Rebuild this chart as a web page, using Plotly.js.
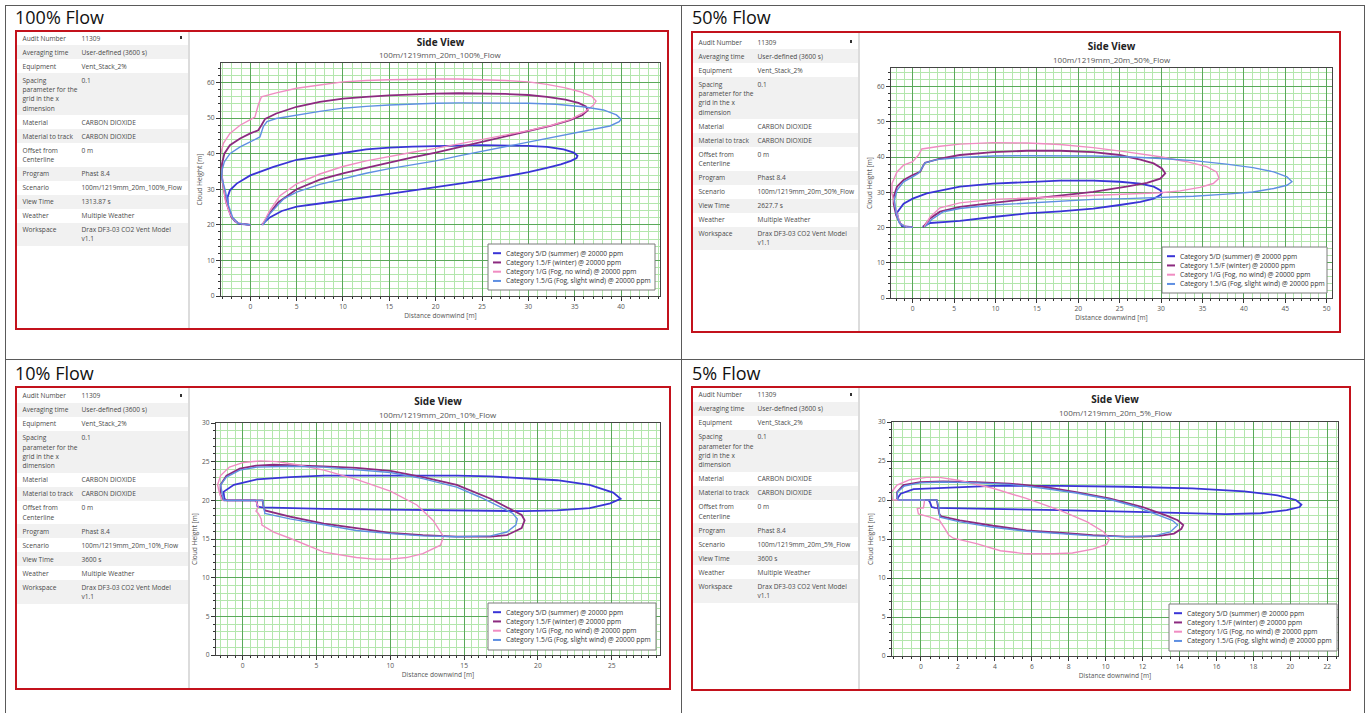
<!DOCTYPE html>
<html><head><meta charset="utf-8">
<script src="https://cdn.plot.ly/plotly-3.0.1.min.js"></script>
<style>
html,body{margin:0;padding:0;background:#fff;}
#page{position:relative;width:1366px;height:713px;overflow:hidden;background:#fff;font-family:"Open Sans",sans-serif;}
.ln{position:absolute;background:#5a5a5a;}
.ptitle{position:absolute;font-size:18px;line-height:18px;color:#111;white-space:nowrap;}
.redbox{position:absolute;border:2px solid #c3121c;box-sizing:border-box;pointer-events:none;}
.pane{position:absolute;background:#fff;}
.row{position:absolute;left:0;right:0;}
.row.g{background:#f1f1f1;}
.lab,.val{position:absolute;top:2.3px;font-size:6.6px;line-height:9.33px;color:#4a4a4a;white-space:nowrap;}
.mark{position:absolute;width:2px;height:3px;background:#333;}
.div{position:absolute;background:#dcdcdc;width:2px;}
.chart{position:absolute;}
</style></head>
<body><div id="page"></div>
<script>
// ---------------- DATA ----------------
const seriesNames = ["Category 5/D (summer) @ 20000 ppm","Category 1.5/F (winter) @ 20000 ppm","Category 1/G (Fog, no wind) @ 20000 ppm","Category 1.5/G (Fog, slight wind) @ 20000 ppm"];
const panelTitles = ["100% Flow","50% Flow","10% Flow","5% Flow"];
const chartTitle = "Side View";
const subTitles = ["100m/1219mm_20m_100%_Flow","100m/1219mm_20m_50%_Flow","100m/1219mm_20m_10%_Flow","100m/1219mm_20m_5%_Flow"];
const xAxisTitle = "Distance downwind [m]";
const yAxisTitle = "Cloud Height [m]";
const infoLabels = ["Audit Number","Averaging time","Equipment","Spacing\nparameter for the\ngrid in the x\ndimension","Material","Material to track","Offset from\nCenterline","Program","Scenario","View Time","Weather","Workspace"];
const infoValues100 = ["11309","User-defined (3600 s)","Vent_Stack_2%","0.1","CARBON DIOXIDE","CARBON DIOXIDE","0 m","Phast 8.4","100m/1219mm_20m_100%_Flow","1313.87 s","Multiple Weather","Drax DF3-03 CO2 Vent Model\nv1.1"];
const infoValues50 = ["11309","User-defined (3600 s)","Vent_Stack_2%","0.1","CARBON DIOXIDE","CARBON DIOXIDE","0 m","Phast 8.4","100m/1219mm_20m_50%_Flow","2627.7 s","Multiple Weather","Drax DF3-03 CO2 Vent Model\nv1.1"];
const infoValues10 = ["11309","User-defined (3600 s)","Vent_Stack_2%","0.1","CARBON DIOXIDE","CARBON DIOXIDE","0 m","Phast 8.4","100m/1219mm_20m_10%_Flow","3600 s","Multiple Weather","Drax DF3-03 CO2 Vent Model\nv1.1"];
const infoValues5 = ["11309","User-defined (3600 s)","Vent_Stack_2%","0.1","CARBON DIOXIDE","CARBON DIOXIDE","0 m","Phast 8.4","100m/1219mm_20m_5%_Flow","3600 s","Multiple Weather","Drax DF3-03 CO2 Vent Model\nv1.1"];

// 100% flow
const f100SumX = [1.22,2.1,3.4,5.0,7.5,10.0,12.5,15.0,17.5,20.0,22.5,25.0,27.5,30.0,32.0,33.5,34.6,35.2,35.3,34.9,33.8,32.0,30.0,27.5,25.0,22.5,20.0,17.5,15.0,12.5,10.0,7.5,5.0,2.5,0.0,-1.47,-2.2,-2.45,-2.4,-2.1,-1.65,-1.2,-0.6,0.0];
const f100SumY = [20.0,22.1,23.9,25.1,26.0,26.8,27.8,28.7,29.6,30.6,31.5,32.5,33.6,34.8,36.0,37.0,38.0,38.8,39.4,40.3,41.2,41.9,42.2,42.4,42.4,42.3,42.2,42.0,41.7,41.2,40.2,39.3,38.3,36.3,33.9,31.6,29.7,27.8,25.0,22.6,21.0,20.3,20.15,20.0];
const f100WinX = [1.33,2.0,3.0,5.0,7.5,10.0,12.5,15.0,17.5,20.0,22.5,25.0,27.5,30.0,32.5,34.5,35.8,36.4,36.2,35.4,34.0,32.0,30.0,27.5,25.0,22.5,20.0,17.5,15.0,12.5,10.0,7.5,5.0,2.8,1.6,1.2,0.86,0.0,-1.1,-2.2,-2.8,-3.05,-3.1,-2.9,-2.55,-2.0,-1.3,-0.6,0.0];
const f100WinY = [20.0,23.0,26.3,30.0,32.7,34.5,36.0,37.6,39.0,40.3,41.8,43.3,44.8,46.3,47.9,49.4,50.8,52.2,53.3,54.3,55.2,56.0,56.5,56.8,57.0,57.0,56.9,56.7,56.4,56.0,55.5,54.6,53.2,51.3,49.8,48.0,46.6,45.7,44.3,42.4,40.0,37.2,34.4,30.6,25.9,22.1,20.4,20.2,20.0];
const f100FogX = [1.3,2.1,3.2,5.0,7.5,10.0,12.5,15.0,17.5,20.0,22.5,25.0,27.5,30.0,32.5,34.5,36.0,37.0,37.3,36.8,35.5,34.0,32.0,30.0,27.5,25.0,22.5,20.0,17.5,15.0,12.5,10.0,7.5,5.0,2.8,1.2,0.86,0.5,0.0,-1.1,-2.2,-2.9,-3.2,-3.25,-3.1,-2.95,-2.7,-2.2,-1.5,-0.7,0.0];
const f100FogY = [20.0,24.0,28.2,31.5,34.3,36.4,38.0,39.3,40.4,41.5,42.7,43.9,45.1,46.5,48.0,49.6,51.6,53.6,54.8,56.2,57.5,58.5,59.5,60.2,60.6,60.9,61.0,61.0,61.0,60.8,60.6,60.2,59.3,58.4,57.1,56.0,53.7,50.3,49.6,48.0,45.7,42.9,40.0,37.2,34.4,31.0,27.0,23.0,20.6,20.2,20.0];
const f100SlwX = [1.4,2.1,3.6,5.0,7.5,10.0,12.5,15.0,17.5,20.0,22.5,25.0,27.5,30.0,32.5,35.0,37.0,38.8,39.8,40.0,39.5,38.1,35.9,33.0,30.0,27.5,25.0,22.5,20.0,17.5,15.0,12.5,10.0,7.5,5.0,2.8,1.8,1.4,1.04,0.0,-1.1,-2.2,-2.8,-3.05,-3.1,-2.7,-2.4,-1.9,-1.3,-0.6,0.0];
const f100SlwY = [20.0,23.1,27.3,29.2,31.4,33.0,34.5,35.8,36.9,38.0,39.4,40.7,42.0,43.3,44.6,45.8,46.8,47.8,49.0,49.7,50.9,52.3,53.2,53.9,54.2,54.3,54.3,54.3,54.2,54.0,53.7,53.3,52.8,51.9,50.9,49.9,49.0,47.6,44.7,43.3,41.9,40.0,37.7,35.3,33.4,29.7,25.9,22.1,20.4,20.2,20.0];

// 50% flow
const f50SumX = [1.2,2.1,4.1,5.7,9.7,13.8,17.8,21.8,25.0,27.5,29.1,29.9,30.1,29.9,29.1,27.5,25.0,21.8,17.8,13.8,9.7,5.7,1.7,0.0,-1.1,-1.9,-1.7,-1.3,-0.7,0.0];
const f50SumY = [20.2,21.3,21.6,21.9,23.0,24.0,24.6,25.4,26.4,27.3,28.2,29.2,29.9,30.6,31.6,32.5,33.0,33.3,33.3,33.0,32.5,31.6,29.7,28.2,26.8,24.2,22.1,20.4,20.2,20.1];
const f50WinX = [1.3,2.1,3.3,5.7,9.7,13.8,17.8,21.8,25.8,28.3,29.9,30.5,30.1,29.1,27.5,25.0,21.8,17.8,13.8,9.7,5.7,3.3,1.5,1.3,0.9,0.0,-1.1,-1.9,-2.3,-2.3,-2.0,-1.5,-0.9,0.0];
const f50WinY = [20.2,22.6,24.5,25.9,27.0,28.0,29.0,30.1,31.6,32.7,33.9,35.4,36.8,38.2,39.3,40.6,41.4,41.8,41.8,41.4,40.6,39.6,38.4,37.7,35.8,34.9,33.5,31.6,28.7,26.8,23.5,21.1,20.2,20.1];
const f50FogX = [1.4,2.1,3.3,5.7,9.7,13.8,17.8,21.8,25.8,29.9,32.3,34.7,36.3,37.0,36.7,35.5,33.1,29.9,25.8,21.8,17.8,13.8,9.7,5.7,3.3,1.1,0.7,0.0,-1.1,-1.9,-2.5,-2.5,-2.3,-1.9,-1.5,-0.7,0.0];
const f50FogY = [20.2,23.0,25.6,27.0,28.0,28.4,28.7,29.0,29.4,29.9,30.4,31.4,32.5,34.0,35.8,37.3,38.7,40.1,41.5,42.7,43.6,44.0,44.1,43.7,43.1,42.3,40.6,38.7,37.7,35.8,32.5,29.7,27.8,24.0,21.1,20.2,20.1];
const f50SlwX = [1.5,2.3,3.7,5.7,9.7,13.8,17.8,21.8,25.8,29.9,33.9,37.9,41.1,43.6,45.2,45.8,45.2,43.6,41.1,37.9,33.9,29.9,25.8,21.8,17.8,13.8,9.7,5.7,2.9,1.5,1.1,0.7,0.0,-1.1,-1.9,-2.2,-2.0,-1.6,-0.9,0.0];
const f50SlwY = [20.2,22.3,24.5,25.4,26.4,27.0,27.6,28.0,28.2,28.5,28.9,29.5,30.1,31.1,32.0,33.0,34.4,35.8,37.0,38.0,39.0,39.6,40.1,40.3,40.4,40.4,40.3,39.9,39.3,38.4,36.8,35.4,34.4,33.0,30.6,27.8,24.0,21.3,20.2,20.1];

// 10% flow
const f10SumX = [-1.1,0.84,0.95,1.0,1.3,5.5,10.0,14.5,19.0,21.3,23.5,24.9,25.6,25.1,23.5,21.3,19.0,16.8,14.5,10.0,5.5,3.2,0.95,-0.6,-1.3,-1.24,-1.1];
const f10SumY = [20.0,20.0,19.8,19.2,19.1,18.9,18.8,18.7,18.6,18.7,19.0,19.6,20.2,21.0,22.0,22.6,22.9,23.1,23.2,23.2,23.2,23.0,22.7,22.0,21.1,20.2,20.0];
const f10WinX = [-1.3,1.35,1.4,1.5,3.2,5.5,7.7,10.0,12.2,14.5,16.8,17.9,18.9,19.1,18.9,18.1,16.8,14.5,12.2,10.0,7.7,5.5,3.2,2.1,0.95,-0.2,-1.1,-1.5,-1.5,-1.3];
const f10WinY = [20.0,20.0,19.2,18.7,17.9,17.0,16.4,15.8,15.5,15.3,15.3,15.5,16.4,17.4,18.1,18.9,20.2,22.0,23.0,23.8,24.2,24.4,24.5,24.6,24.5,24.1,23.2,22.0,20.7,20.0];
const f10FogX = [-1.4,0.9,0.95,1.06,0.9,1.06,1.25,1.3,2.1,3.2,5.5,7.7,8.9,10.0,11.1,12.2,13.4,13.6,12.9,11.8,10.0,7.7,5.5,3.7,2.3,1.2,0.05,-0.9,-1.5,-1.7,-1.6,-1.4];
const f10FogY = [20.0,20.0,19.6,19.2,18.6,18.3,17.6,16.8,15.9,15.1,13.3,12.6,12.4,12.4,12.6,13.1,14.2,15.3,17.4,19.4,21.2,22.7,23.9,24.6,25.0,25.1,24.9,24.3,23.2,22.0,21.1,20.0];
const f10SlwX = [-1.3,1.35,1.45,1.5,3.2,5.5,7.7,10.0,12.2,14.5,16.8,17.9,18.5,18.6,18.3,17.4,16.1,14.5,12.2,10.0,7.7,5.5,3.2,0.95,-0.2,-1.1,-1.5,-1.4,-1.3];
const f10SlwY = [20.0,20.0,18.9,18.3,17.6,16.8,16.1,15.7,15.4,15.3,15.4,15.9,16.8,17.6,18.3,19.2,20.4,21.7,22.8,23.6,24.0,24.3,24.4,24.3,23.9,23.0,22.0,20.7,20.0];

// 5% flow
const f5SumX = [-1.23,0.4,0.49,0.58,0.76,3.9,7.5,11.1,14.7,16.5,18.4,19.8,20.5,20.6,20.3,19.3,17.5,14.7,11.1,7.5,3.9,1.2,-0.4,-1.1,-1.28,-1.23];
const f5SumY = [20.0,20.0,19.7,19.1,19.0,18.9,18.7,18.5,18.3,18.2,18.3,18.7,19.1,19.4,20.0,20.6,21.1,21.5,21.7,21.8,21.8,21.6,21.4,20.8,20.2,20.0];
const f5WinX = [-1.23,0.85,0.88,0.94,0.99,1.1,2.1,3.9,5.7,7.5,9.3,11.1,12.0,12.9,13.7,14.1,14.2,13.9,13.3,12.0,10.2,8.4,6.6,4.8,3.0,1.2,-0.05,-0.96,-1.3,-1.28,-1.23];
const f5WinY = [20.0,20.0,19.7,19.1,18.2,17.9,17.4,16.7,16.1,15.8,15.5,15.3,15.3,15.4,15.7,16.3,16.8,17.4,18.0,19.1,20.2,21.0,21.7,22.1,22.3,22.4,22.3,21.9,21.0,20.2,20.0];
const f5FogX = [-1.55,0.18,0.18,0.13,-0.2,-0.14,0.49,1.0,1.3,1.5,1.75,3.0,4.3,5.7,7.2,8.2,9.3,10.05,10.2,9.9,9.0,7.5,5.7,3.9,2.1,1.0,0.3,-0.6,-1.3,-1.6,-1.55];
const f5FogY = [20.0,20.0,19.7,19.0,18.9,18.2,17.8,17.4,16.3,15.5,15.1,14.4,13.5,13.1,13.1,13.2,13.7,14.3,15.0,15.9,17.2,18.7,20.2,21.5,22.5,22.9,22.9,22.6,21.9,21.0,20.0];
const f5SlwX = [-1.23,0.85,0.94,1.03,2.1,3.9,5.7,7.5,9.3,11.1,12.6,13.5,13.8,13.9,13.6,12.9,11.7,10.2,8.4,6.6,4.8,3.0,1.2,-0.05,-0.9,-1.28,-1.28,-1.23];
const f5SlwY = [20.0,20.0,19.3,17.8,17.2,16.5,16.0,15.7,15.4,15.3,15.4,15.9,16.5,16.8,17.4,18.0,19.1,20.1,20.9,21.5,22.0,22.2,22.3,22.2,21.8,21.0,20.2,20.0];

// ---------------- STYLE / LAYOUT ----------------
const FONT = '"Open Sans", sans-serif';
const lineStyles = [
  {color:'#3934d6', width:1.8},
  {color:'#8c2a7f', width:1.8},
  {color:'#f08cc2', width:1.4},
  {color:'#5e8fe2', width:1.4}
];
const panels = [
  {title:panelTitles[0], tx:15, ty:7.5, red:[15,30,654,300], pane:[17,31.3,171,296], chart:[190,33,476,294],
   m:{l:31,r:6,t:30,b:31}, xr:[-3.16,44.2], yr:[0,65.5], xd:5, yd:10, xm:1, ym:2,
   titleY:42, subY:55, legend:[488,244,655,290], info:infoValues100,
   xs:[[f100SumX,f100SumY],[f100WinX,f100WinY],[f100FogX,f100FogY],[f100SlwX,f100SlwY]]},
  {title:panelTitles[1], tx:692, ty:7.5, red:[691,31,650,302], pane:[693,35.3,165,295], chart:[860,34,478,296],
   m:{l:31,r:6,t:34,b:32}, xr:[-2.62,50.64], yr:[0,65.3], xd:5, yd:10, xm:1, ym:2,
   titleY:46.7, subY:60, legend:[1162,247,1327,293], info:infoValues50,
   xs:[[f50SumX,f50SumY],[f50WinX,f50WinY],[f50FogX,f50FogY],[f50SlwX,f50SlwY]]},
  {title:panelTitles[2], tx:15, ty:363.5, red:[15,386,656,304], pane:[17,389,171,299], chart:[190,389,476,298],
   m:{l:26,r:6,t:34,b:32}, xr:[-1.81,28.27], yr:[0,30], xd:5, yd:5, xm:0.5, ym:1,
   titleY:401, subY:414, legend:[488,603,656,650], info:infoValues10,
   xs:[[f10SumX,f10SumY],[f10WinX,f10WinY],[f10FogX,f10FogY],[f10SlwX,f10SlwY]]},
  {title:panelTitles[3], tx:692, ty:363.5, red:[691,386,660,305], pane:[693,388,165,300], chart:[862,389,486,299],
   m:{l:30,r:10,t:33,b:32}, xr:[-1.57,22.58], yr:[0,30], xd:2, yd:5, xm:0.5, ym:1,
   titleY:399.7, subY:412.7, legend:[1169,604,1337,651], info:infoValues5,
   xs:[[f5SumX,f5SumY],[f5WinX,f5WinY],[f5FogX,f5FogY],[f5SlwX,f5SlwY]]}
];

const page = document.getElementById('page');
function el(cls, css, html){const d=document.createElement('div'); d.className=cls; Object.assign(d.style, css); if(html!==undefined) d.innerHTML=html; page.appendChild(d); return d;}

// outer frame lines
el('ln',{left:'5px',top:'5px',width:'1360px',height:'1px'});
el('ln',{left:'5px',top:'5px',width:'1px',height:'708px'});
el('ln',{left:'1364px',top:'5px',width:'1px',height:'708px'});
el('ln',{left:'681px',top:'5px',width:'1px',height:'708px'});
el('ln',{left:'5px',top:'359px',width:'1360px',height:'1px'});

panels.forEach((p, pi) => {
  el('ptitle',{left:p.tx+'px',top:p.ty+'px'}, p.title);
  // info pane
  const pane = el('pane',{left:p.pane[0]+'px',top:p.pane[1]+'px',width:p.pane[2]+'px',height:p.pane[3]+'px'});
  let y = 0;
  infoLabels.forEach((lab, i) => {
    const lines = Math.max(lab.split('\n').length, p.info[i].split('\n').length);
    const h = 4.67 + 9.33*lines;
    const r = document.createElement('div');
    r.className = 'row' + (i%2===1 ? ' g' : '');
    r.style.top = y+'px'; r.style.height = h+'px';
    r.innerHTML = '<div class="lab" style="left:5.5px">'+lab.replace(/\n/g,'<br>')+'</div>'+
                  '<div class="val" style="left:64.5px">'+p.info[i].replace(/\n/g,'<br>')+'</div>';
    pane.appendChild(r);
    y += h;
  });
  const mk = document.createElement('div'); mk.className='mark'; mk.style.left=(p.pane[2]-8)+'px'; mk.style.top='5px'; pane.appendChild(mk);
  el('div',{left:(p.pane[0]+p.pane[2])+'px',top:(p.red[1]+2)+'px',height:(p.red[3]-4)+'px'});

  // chart
  const [cl, ct, cw, ch] = p.chart;
  const cdiv = el('chart',{left:cl+'px',top:ct+'px',width:cw+'px',height:ch+'px'});
  const pl = cl + p.m.l, pr = cl + cw - p.m.r, ptop = ct + p.m.t, pb = ct + ch - p.m.b;
  const pw = pr - pl, ph = pb - ptop;
  const px2x = v => (v - pl)/pw;
  const px2y = v => (pb - v)/ph;

  const traces = p.xs.map((xy, k) => ({
    type:'scatter', mode:'lines', x:xy[0], y:xy[1], name:seriesNames[k],
    line:{color:lineStyles[k].color, width:lineStyles[k].width}, hoverinfo:'skip'
  }));

  const [lx0, ly0, lx1, ly1] = p.legend;
  const shapes = [{type:'rect', xref:'paper', yref:'paper', x0:px2x(lx0), x1:px2x(lx1), y0:px2y(ly1), y1:px2y(ly0),
                   fillcolor:'#ffffff', line:{color:'#7a7a7a', width:1}, layer:'above'}];
  const annotations = [{xref:'paper', yref:'paper', x:0.5, y:px2y(p.subY), xanchor:'center', yanchor:'middle',
                        text:subTitles[pi], showarrow:false, font:{family:FONT, size:8, color:'#555'}}];
  seriesNames.forEach((nm, k) => {
    const yy = ly0 + 9.2 + 9.25*k;
    shapes.push({type:'line', xref:'paper', yref:'paper', x0:px2x(lx0+5), x1:px2x(lx0+13), y0:px2y(yy), y1:px2y(yy),
                 line:{color:lineStyles[k].color, width:2}, layer:'above'});
    annotations.push({xref:'paper', yref:'paper', x:px2x(lx0+15.5), y:px2y(yy), xanchor:'left', yanchor:'middle',
                      text:nm, showarrow:false, font:{family:FONT, size:6.7, color:'#333'}});
  });

  const axisCommon = {
    showgrid:true, gridcolor:'#5aa85a', gridwidth:1, zeroline:false,
    showline:true, linecolor:'#444', linewidth:1, mirror:true,
    ticks:'outside', ticklen:4, tickcolor:'#333', tickwidth:1,
    tickfont:{family:FONT, size:6.7, color:'#555'}, tick0:0
  };
  const layout = {
    width:cw, height:ch, margin:{l:p.m.l, r:p.m.r, t:p.m.t, b:p.m.b, pad:0},
    paper_bgcolor:'#ffffff', plot_bgcolor:'#ffffff', showlegend:false,
    font:{family:FONT, color:'#444'},
    title:{text:'<b>'+chartTitle+'</b>', font:{family:FONT, size:10, color:'#222'}, x:0.5, xref:'paper', xanchor:'center',
           y:1-(p.titleY-ct)/ch, yref:'container', yanchor:'middle'},
    xaxis:Object.assign({}, axisCommon, {range:p.xr, dtick:p.xd,
      minor:{dtick:p.xm, tick0:0, showgrid:true, gridcolor:'#b3e6ad', gridwidth:1, ticks:'outside', ticklen:2, tickcolor:'#333'},
      title:{text:xAxisTitle, font:{family:FONT, size:6.6, color:'#555'}, standoff:3}}),
    yaxis:Object.assign({}, axisCommon, {range:p.yr, dtick:p.yd,
      minor:{dtick:p.ym, tick0:0, showgrid:true, gridcolor:'#b3e6ad', gridwidth:1, ticks:'outside', ticklen:2, tickcolor:'#333'},
      title:{text:yAxisTitle, font:{family:FONT, size:6.6, color:'#555'}, standoff:3}}),
    shapes:shapes, annotations:annotations
  };
  Plotly.newPlot(cdiv, traces, layout, {staticPlot:true, displayModeBar:false});

  el('redbox',{left:p.red[0]+'px',top:p.red[1]+'px',width:p.red[2]+'px',height:p.red[3]+'px'});
});
</script>
</body></html>
